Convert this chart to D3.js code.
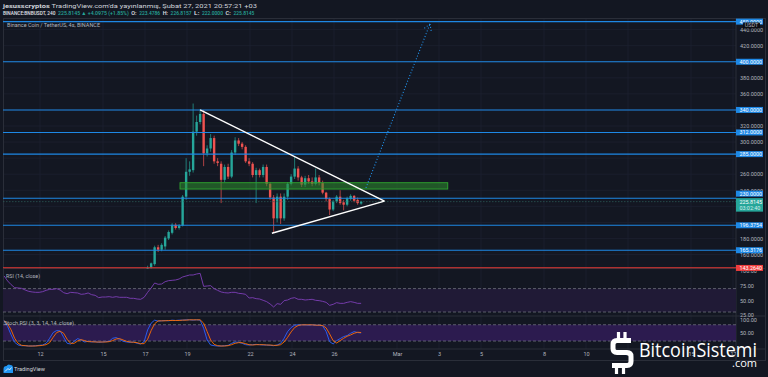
<!DOCTYPE html>
<html lang="tr">
<head>
<meta charset="UTF-8">
<title>BNBUSDT 4s</title>
<script src="https://cdn.jsdelivr.net/npm/d3@7"></script>
<style>
  body { margin: 0; background: #131722; }
  svg { display: block; font-family: Roboto, "Liberation Sans", sans-serif; }
</style>
</head>
<body>
<svg width="768" height="377"></svg>
<script>
// ---- data (prices in USDT, times are chart wall-clock, +03) ----
const candleStart = Date.UTC(2021, 1, 16, 23);
const opens  = [134,138,144,148,169,166,170,180,187,197,193,196,232,263,265,313,325,335,286,292,305,276,273,253,269,257,287,302,298,294,276,273,259,265,259,269,248,231,205,232,205,232,248,257,267,256,247,255,251,248,256,249,237,229,216,226,232,225,222,229,233,228,223.4786];
const highs  = [139,146,150,171,172,174,183,190,199,199,198,234,280,276,348,333,341,340,296,310,308,280,276,272,273,290,306,305,300,296,280,275,268,267,272,272,250,234,236,236,236,250,260,282,270,258,258,259,256,267,259,252,238,231,228,234,240,228,232,235,234,231,226.8157];
const lows   = [132,136,142,146,163,164,166,178,185,191,191,195,228,258,262,308,322,270,282,288,273,270,224,250,254,255,284,295,291,274,270,256,224,256,256,245,228,187,200,198,202,228,246,254,252,244,244,248,245,246,246,235,226,209,214,224,222,215,220,227,225,222,222.0];
const closes = [138,143,149,169,166,172,181,188,197,193,196,232,263,266,313,325,335,286,292,305,276,274,253,269,257,287,302,298,294,276,273,259,265,259,269,248,231,205,232,205,232,248,257,267,256,247,255,251,248,256,249,237,229,216,226,232,224,222,230,233,227,224,225.8145];

const indStart = Date.UTC(2021, 1, 10, 7);
const rsi = [91.5,83,76.7,71.6,71,70.4,67.6,65.3,64.2,63.6,
  63.6,64.7,67,68.7,68.7,69.9,67.6,63,61.3,63.6,
  63,62.5,60.2,60.8,62.5,59.6,58.5,54.5,55.6,55.6,
  56.2,55.1,56.2,55.1,55.1,55.1,53.4,53.4,52.2,51.7,
  55.1,63.6,71,79.5,77.3,77.8,81.8,83.5,84.1,84.7,
  86.4,89.8,91.5,93.2,93.2,94.9,96,73.8,74.4,75,
  69.9,67,64.2,63,62.5,63.6,63.6,61.9,61.3,60.2,
  53.9,54.5,52.8,52.2,50,47.7,43.7,38.6,44.3,43.1,
  49.4,50.5,53.4,54.5,51.7,51.7,50.5,51.1,51.7,50,
  49.4,48.2,46.5,41.4,43.1,46,44.8,44.8,46.5,47.7,
  46.5,44.8,44.8];
const stochK = [95.6,73.4,42.5,15.4,5.5,3.0,3.0,1.8,1.8,3.0,
  4.2,5.5,11.7,30.2,51.2,58.6,57.3,33.9,11.7,9.2,
  19.1,29.0,24.0,16.6,19.1,16.6,17.8,15.4,16.6,17.8,
  19.1,30.2,32.7,26.5,19.1,16.6,15.4,16.6,11.7,9.2,
  17.8,61.0,85.8,96.9,93.2,94.4,95.6,94.4,96.9,95.6,
  96.9,96.9,98.1,98.1,96.9,98.1,96.9,67.2,24.0,5.5,
  3.0,1.8,1.8,3.0,4.2,11.7,16.6,15.4,11.7,6.7,
  5.5,6.7,7.9,6.7,5.5,5.5,4.2,3.0,5.5,11.7,
  30.2,54.9,69.7,78.3,79.6,79.6,79.6,78.3,79.6,78.3,
  78.3,75.9,54.9,17.8,9.2,21.5,29.0,36.4,40.1,48.7,
  54.9,51.2,49.9];
const stochD = [94.4,83.3,61.0,30.2,11.7,4.2,3.0,1.8,1.8,1.8,
  3.0,4.2,6.7,14.1,33.9,51.2,56.1,48.7,26.5,11.7,
  11.7,20.3,25.2,21.5,17.8,17.8,16.6,16.6,16.6,16.6,
  17.8,21.5,27.7,29.0,24.0,19.1,16.6,15.4,14.1,10.4,
  10.4,26.5,58.6,83.3,94.4,94.4,94.4,95.6,95.6,95.6,
  95.6,96.9,96.9,98.1,98.1,98.1,98.1,85.8,54.9,24.0,
  7.9,3.0,1.8,1.8,3.0,6.7,11.7,14.1,14.1,10.4,
  6.7,5.5,6.7,6.7,6.7,5.5,5.5,4.2,4.2,6.7,
  16.6,33.9,53.6,69.7,77.1,79.6,79.6,79.6,79.6,78.3,
  78.3,77.1,68.5,46.2,21.5,12.9,21.5,30.2,37.6,42.5,
  48.7,52.4,51.2];

const levels = [450, 400, 340, 312, 285, 230, 196.3754, 165.3176];
const redLevel = 143.264;
const lastPrice = 225.8145;
const countdown = "03:02:40";
const priceTicks = [440, 420, 380, 360, 320, 300, 260, 240, 180, 160];
const rsiTicks = [100, 75, 50, 25];
const stochTicks = [100, 50];
const tickDates = ["2021-02-12","2021-02-15","2021-02-17","2021-02-19","2021-02-22","2021-02-24","2021-02-26",
  "2021-03-01","2021-03-03","2021-03-05","2021-03-08","2021-03-10","2021-03-12","2021-03-15","2021-03-17"];
const tickLabels = ["12","15","17","19","22","24","26","Mar","3","5","8","10","12","15","17"];

// drawings: [time, price]
const triUpper = [["2021-02-19 15:00", 340], ["2021-02-28 09:40", 226.5]];
const triLower = [["2021-02-23 01:00", 186.5], ["2021-02-28 09:40", 226.5]];
const arrowPath = [["2021-02-27 12:30", 243], ["2021-03-02 13:40", 447]];
const zone = { from: "2021-02-18 16:00", to: "2021-03-03 10:00", low: 241.5, high: 249.4 };

// ---- layout ----
const svg = d3.select("svg");
const L = 3, R = 736, FR = 766, TOP = 18, MAIN_B = 268.5, RSI_B = 316, ST_B = 349, BOT = 361;
const HOUR = 3600e3;
const parseD = d3.utcParse("%Y-%m-%d");
const parseT = d3.utcParse("%Y-%m-%d %H:%M");

const x = d3.scaleUtc().domain([parseD("2021-02-12"), parseD("2021-03-01")]).range([40, 397]);
const y = d3.scaleLinear().domain([420, 160]).range([45.7, 254.5]);
const yR = d3.scaleLinear().domain([50, 100]).range([300.3, 271]);
const yS = d3.scaleLinear().domain([0, 100]).range([346.5, 319.3]);

const grey = "#b2b5be", up = "#26a69a", down = "#ef5350", blue = "#2196f3";

svg.append("rect").attr("width", 768).attr("height", 377).attr("fill", "#131722");

const defs = svg.append("defs");
function clip(id, y0, y1) {
  defs.append("clipPath").attr("id", id).append("rect")
    .attr("x", L).attr("y", y0).attr("width", R - L).attr("height", y1 - y0);
}
clip("cMain", TOP, MAIN_B); clip("cRsi", MAIN_B, RSI_B); clip("cSt", RSI_B, ST_B); clip("cTime", ST_B, BOT);

// grid
const grid = svg.append("g").attr("stroke", "#1d2130").attr("stroke-width", 0.8);
grid.selectAll(".v").data(tickDates).join("line")
  .attr("x1", d => x(parseD(d))).attr("x2", d => x(parseD(d))).attr("y1", TOP).attr("y2", ST_B)
  .attr("clip-path", "url(#cMain)");
grid.selectAll(".v2").data(tickDates).join("line")
  .attr("x1", d => x(parseD(d))).attr("x2", d => x(parseD(d))).attr("y1", MAIN_B).attr("y2", ST_B);
grid.selectAll(".h").data(d3.range(160, 460, 20)).join("line")
  .attr("x1", L).attr("x2", R).attr("y1", d => y(d)).attr("y2", d => y(d))
  .attr("clip-path", "url(#cMain)");

// frame and separators
svg.append("rect").attr("x", L + 0.5).attr("y", TOP + 0.5).attr("width", FR - L - 1).attr("height", BOT - TOP - 1)
  .attr("fill", "none").attr("stroke", "#2a2e39");
svg.append("line").attr("x1", R).attr("x2", R).attr("y1", TOP).attr("y2", BOT).attr("stroke", "#2a2e39");
[MAIN_B, RSI_B, ST_B].forEach(v => svg.append("line").attr("x1", L).attr("x2", FR).attr("y1", v).attr("y2", v)
  .attr("stroke", "#2a2e39").attr("stroke-width", 1.2));

// ---- main pane ----
const main = svg.append("g").attr("clip-path", "url(#cMain)");
const candles = opens.map((o, i) => ({ t: new Date(candleStart + i * 4 * HOUR), o, h: highs[i], l: lows[i], c: closes[i] }));
const cg = main.append("g");
cg.selectAll("line").data(candles).join("line")
  .attr("x1", d => x(d.t)).attr("x2", d => x(d.t)).attr("y1", d => y(d.h)).attr("y2", d => y(d.l))
  .attr("stroke", d => d.c >= d.o ? up : down).attr("stroke-width", 0.7);
cg.selectAll("rect").data(candles).join("rect")
  .attr("x", d => x(d.t) - 1.2).attr("width", 2.4)
  .attr("y", d => y(Math.max(d.o, d.c))).attr("height", d => Math.max(0.8, Math.abs(y(d.o) - y(d.c))))
  .attr("fill", d => d.c >= d.o ? up : down);

// green zone
main.append("rect")
  .attr("x", x(parseT(zone.from))).attr("width", x(parseT(zone.to)) - x(parseT(zone.from)))
  .attr("y", y(zone.high)).attr("height", y(zone.low) - y(zone.high))
  .attr("fill", "rgba(46,140,46,0.55)").attr("stroke", "#2fa52f").attr("stroke-width", 0.9);

// horizontal levels
main.selectAll(".lvl").data(levels).join("line")
  .attr("x1", L).attr("x2", R).attr("y1", d => y(d)).attr("y2", d => y(d))
  .attr("stroke", "#1e88e5").attr("stroke-width", 1.1);
main.append("line").attr("x1", L).attr("x2", R).attr("y1", y(redLevel)).attr("y2", y(redLevel))
  .attr("stroke", "#e53935").attr("stroke-width", 1.2);
main.append("line").attr("x1", L).attr("x2", R).attr("y1", y(lastPrice)).attr("y2", y(lastPrice))
  .attr("stroke", "#2d5e5a").attr("stroke-width", 0.7).attr("stroke-dasharray", "1.5,1.5");

// triangle
const line = d3.line().x(d => x(parseT(d[0]))).y(d => y(d[1]));
[triUpper, triLower].forEach(seg => main.append("path").attr("d", line(seg))
  .attr("fill", "none").attr("stroke", "#ffffff").attr("stroke-width", 1.4));

// dotted projection with arrow head
main.append("path").attr("d", line(arrowPath)).attr("fill", "none")
  .attr("stroke", blue).attr("stroke-width", 1.1).attr("stroke-dasharray", "1,2");
{
  const p0 = [x(parseT(arrowPath[0][0])), y(arrowPath[0][1])];
  const p1 = [x(parseT(arrowPath[1][0])), y(arrowPath[1][1])];
  const ang = Math.atan2(p1[1] - p0[1], p1[0] - p0[0]);
  [-0.55, 0.55].forEach(a => {
    main.append("line").attr("x1", p1[0]).attr("y1", p1[1])
      .attr("x2", p1[0] - 8 * Math.cos(ang + a)).attr("y2", p1[1] - 8 * Math.sin(ang + a))
      .attr("stroke", blue).attr("stroke-width", 1.1).attr("stroke-dasharray", "1,2");
  });
}

// ---- RSI pane ----
const rsiG = svg.append("g").attr("clip-path", "url(#cRsi)");
const indT = i => new Date(indStart + i * 4 * HOUR);
rsiG.append("rect").attr("x", L).attr("width", R - L).attr("y", yR(70)).attr("height", yR(30) - yR(70)).attr("fill", "#201a36");
[70, 30].forEach(v => rsiG.append("line").attr("x1", L).attr("x2", R).attr("y1", yR(v)).attr("y2", yR(v))
  .attr("stroke", "#787b86").attr("stroke-width", 0.7).attr("stroke-dasharray", "3,2"));
rsiG.append("path").datum(rsi).attr("d", d3.line().x((d, i) => x(indT(i))).y(d => yR(d)))
  .attr("fill", "none").attr("stroke", "#7e3fb8").attr("stroke-width", 0.9);

// ---- Stoch RSI pane ----
const stG = svg.append("g").attr("clip-path", "url(#cSt)");
stG.append("rect").attr("x", L).attr("width", R - L).attr("y", yS(80)).attr("height", yS(20) - yS(80)).attr("fill", "#2c1b4f");
[80, 20].forEach(v => stG.append("line").attr("x1", L).attr("x2", R).attr("y1", yS(v)).attr("y2", yS(v))
  .attr("stroke", "#787b86").attr("stroke-width", 0.7).attr("stroke-dasharray", "3,2"));
const sl = d3.line().x((d, i) => x(indT(i))).y(d => yS(d));
stG.append("path").datum(stochK).attr("d", sl).attr("fill", "none").attr("stroke", "#2962ff").attr("stroke-width", 0.9);
stG.append("path").datum(stochD).attr("d", sl).attr("fill", "none").attr("stroke", "#ff6d00").attr("stroke-width", 0.9);

// pane titles
svg.append("text").attr("x", 7).attr("y", 27).attr("font-size", 5.6).attr("fill", grey)
  .attr("textLength", 93).attr("lengthAdjust", "spacingAndGlyphs").text("Binance Coin / TetherUS, 4s, BINANCE");
svg.append("text").attr("x", 6).attr("y", 277.5).attr("font-size", 5.4).attr("fill", grey)
  .attr("textLength", 34).attr("lengthAdjust", "spacingAndGlyphs").text("RSI (14, close)");
svg.append("text").attr("x", 4).attr("y", 324.5).attr("font-size", 5.4).attr("fill", grey)
  .attr("textLength", 70).attr("lengthAdjust", "spacingAndGlyphs").text("Stoch RSI (3, 3, 14, 14, close)");

// ---- axes ----
function styleAxis(g) {
  g.select(".domain").remove();
  g.selectAll("text").attr("fill", grey).attr("font-size", 5.5).attr("font-family", "Roboto, sans-serif");
}
svg.append("g").attr("transform", `translate(${R},0)`)
  .call(d3.axisRight(y).tickValues(priceTicks).tickSize(0).tickPadding(4).tickFormat(d3.format(".4f"))).call(styleAxis);
svg.append("g").attr("transform", `translate(${R},0)`)
  .call(d3.axisRight(yR).tickValues(rsiTicks).tickSize(0).tickPadding(4).tickFormat(d3.format(".2f"))).call(styleAxis);
svg.append("g").attr("transform", `translate(${R},0)`)
  .call(d3.axisRight(yS).tickValues(stochTicks).tickSize(0).tickPadding(4).tickFormat(d3.format(".2f"))).call(styleAxis);
svg.append("g").attr("clip-path", "url(#cTime)")
  .append("g").attr("transform", `translate(0,${ST_B})`)
  .call(d3.axisBottom(x).tickValues(tickDates.map(parseD)).tickSize(0).tickPadding(3)
    .tickFormat((d, i) => tickLabels[i])).call(styleAxis);

// price labels
const lastY = y(lastPrice);
const labG = svg.append("g").attr("font-size", 5.4);
levels.forEach(v => {
  let cy = y(v);
  if (Math.abs(cy - lastY) < 8) cy = lastY - 8;
  labG.append("rect").attr("x", R).attr("y", cy - 3).attr("width", 27).attr("height", 6).attr("fill", "#1e88e5");
  labG.append("text").attr("x", R + 3.5).attr("y", cy).attr("dy", "0.36em").attr("fill", "#fff").text(d3.format(".4f")(v));
});
labG.append("rect").attr("x", R).attr("y", lastY - 3.5).attr("width", 27).attr("height", 13.5).attr("fill", up);
labG.append("text").attr("x", R + 3.5).attr("y", lastY).attr("dy", "0.36em").attr("fill", "#fff").text(d3.format(".4f")(lastPrice));
labG.append("text").attr("x", R + 3.5).attr("y", lastY + 6.5).attr("dy", "0.36em").attr("fill", "#d5efec").text(countdown);
labG.append("rect").attr("x", R).attr("y", y(redLevel) - 3).attr("width", 27).attr("height", 6).attr("fill", "#ef3d3d");
labG.append("text").attr("x", R + 3.5).attr("y", y(redLevel)).attr("dy", "0.36em").attr("fill", "#fff").text(d3.format(".4f")(redLevel));
// currency tooltip
labG.append("rect").attr("x", 743).attr("y", 22.5).attr("width", 17).attr("height", 6).attr("rx", 1).attr("fill", "#0c0e15");
labG.append("text").attr("x", 751.5).attr("y", 25.5).attr("dy", "0.36em").attr("text-anchor", "middle").attr("fill", grey).text("USDT");

// ---- header ----
svg.append("text").attr("x", 3).attr("y", 7.8).attr("font-size", 6.2).attr("fill", "#d1d4dc")
  .attr("textLength", 254).attr("lengthAdjust", "spacingAndGlyphs")
  .call(t => {
    t.append("tspan").attr("font-weight", "bold").text("jesusscryptos");
    t.append("tspan").text(" TradingView.com'da yayınlanmış, Şubat 27, 2021 20:57:21 +03");
  });
// second header line: segments laid out one after another
const hdr = [["BINANCE:BNBUSDT, 240", "#e0e3eb"], ["225.8145 ▲ +4.0975 (+1.85%)", up], ["O:", "#e0e3eb"], ["223.4786", up],
  ["H:", "#e0e3eb"], ["226.8157", up], ["L:", "#e0e3eb"], ["222.0000", up], ["C:", "#e0e3eb"], ["225.8145", up]];
{
  const hg = svg.append("g").attr("font-size", 5.6).attr("font-weight", 500);
  let cx = 3;
  hdr.forEach(([s, col]) => {
    const t = hg.append("text").attr("x", cx).attr("y", 15).attr("fill", col).text(s);
    const w = s.length * 2.62;
    t.attr("textLength", w).attr("lengthAdjust", "spacingAndGlyphs");
    cx += w + 2.6;
  });
}

// ---- footer: TradingView mark ----
const tv = svg.append("g");
tv.append("path").attr("d", "M3.5 373 L3.5 369 Q3.5 366 6.5 366 Q8 363.5 10.5 365 Q13 365 13 368 L13 373 Z").attr("fill", "#2196f3");
tv.append("path").attr("d", "M5 371.5 L8 368.5 L9.5 370 L11.5 367.5").attr("fill", "none").attr("stroke", "#fff").attr("stroke-width", 0.8);
tv.append("text").attr("x", 14).attr("y", 371.3).attr("font-size", 5.6).attr("fill", "#d1d4dc")
  .attr("textLength", 31).attr("lengthAdjust", "spacingAndGlyphs").text("TradingView");

// ---- watermark ----
const wm = svg.append("g").attr("fill", "#ffffff");
wm.append("path")
  .attr("d", "M631 340.5 L617 340.5 Q613 340.5 613 344.5 L613 348.5 Q613 352.5 617 352.5 L627 352.5 Q631 352.5 631 356.5 L631 361.5 Q631 365.5 627 365.5 L612 365.5")
  .attr("fill", "none").attr("stroke", "#ffffff").attr("stroke-width", 5).attr("stroke-linejoin", "miter");
[[618.5, 332, 6.5], [625, 332, 6.5], [616.5, 367.5, 6.5], [623.5, 367.5, 6.5]].forEach(b =>
  wm.append("rect").attr("x", b[0] - 1.6).attr("y", b[1]).attr("width", 3.2).attr("height", b[2]));
wm.append("text").attr("x", 639).attr("y", 357).attr("font-size", 20.5).attr("font-family", "'Open Sans', sans-serif")
  .attr("textLength", 118).attr("lengthAdjust", "spacingAndGlyphs").text("BitcoinSistemi");
wm.append("text").attr("x", 757).attr("y", 366.5).attr("text-anchor", "end").attr("font-size", 11)
  .attr("font-family", "'Open Sans', sans-serif").text(".com");
</script>
</body>
</html>
